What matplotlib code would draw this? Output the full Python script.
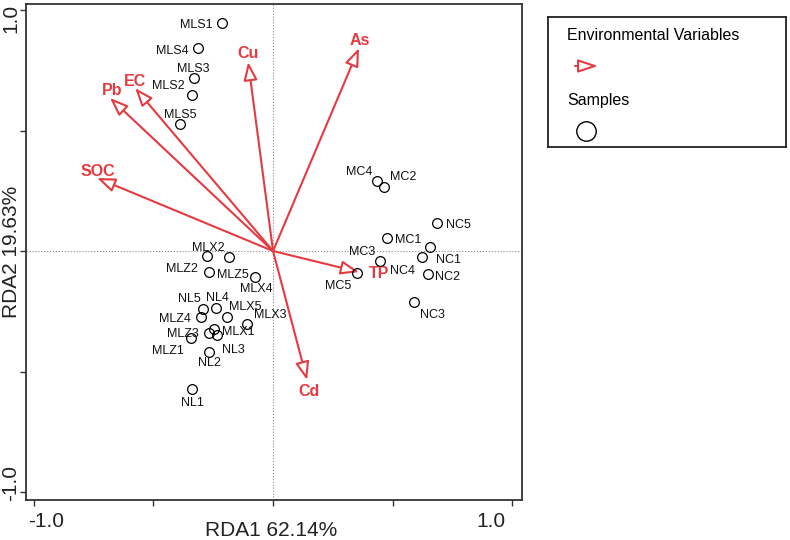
import numpy as np
import matplotlib.pyplot as plt

plt.rcParams['font.family'] = ['Liberation Sans', 'DejaVu Sans']

# sample scores (RDA1, RDA2)
samples = ['MLS1', 'MLS4', 'MLS3', 'MLS2', 'MLS5',
           'MLX2', 'MLZ5', 'MLZ2', 'MLX4', 'NL5', 'NL4', 'MLZ4', 'MLX5',
           'MLX3', 'MLX1', 'MLZ3', 'MLZ1', 'NL3', 'NL2', 'NL1',
           'MC4', 'MC2', 'NC5', 'MC1', 'NC1', 'NC4', 'MC3', 'MC5', 'NC2', 'NC3']
rda1 = [-0.213, -0.313, -0.330, -0.338, -0.388,
        -0.276, -0.184, -0.267, -0.075, -0.292, -0.238, -0.301, -0.192,
        -0.109, -0.246, -0.267, -0.343, -0.234, -0.267, -0.338,
        0.434, 0.464, 0.685, 0.476, 0.656, 0.622, 0.447, 0.351, 0.647, 0.589]
rda2 = [0.946, 0.842, 0.718, 0.647, 0.527,
        -0.021, -0.025, -0.087, -0.108, -0.241, -0.237, -0.274, -0.274,
        -0.303, -0.324, -0.340, -0.361, -0.349, -0.419, -0.573,
        0.290, 0.266, 0.116, 0.054, 0.017, -0.025, -0.041, -0.091, -0.095, -0.212]

# environmental variable arrows
env_vars = ['Cu', 'As', 'EC', 'Pb', 'SOC', 'TP', 'Cd']
env_x = [-0.104, 0.359, -0.576, -0.681, -0.735, 0.359, 0.142]
env_y = [0.784, 0.842, 0.676, 0.635, 0.303, -0.087, -0.535]

# label offsets in pixels (dx, dy downwards)
sample_off = {
    'MLS1': (-26, 2), 'MLS4': (-26, 3), 'MLS3': (-1, -9), 'MLS2': (-24, -9), 'MLS5': (0, -9),
    'MLX2': (1, -8), 'MLZ5': (4, 18), 'MLZ2': (-27, -3), 'MLX4': (1, 12), 'NL5': (-14, -10),
    'NL4': (1, -10), 'MLZ4': (-26, 2), 'MLX5': (18, -10), 'MLX3': (23, -9), 'MLX1': (24, 3),
    'MLZ3': (-26, 1), 'MLZ1': (-23, 13), 'NL3': (16, 15), 'NL2': (0, 11), 'NL1': (0, 14),
    'MC4': (-18, -9), 'MC2': (19, -10), 'NC5': (21, 2), 'MC1': (21, 2), 'NC1': (18, 13),
    'NC4': (-19, 14), 'MC3': (-18, -9), 'MC5': (-19, 13), 'NC2': (20, 3), 'NC3': (18, 13),
}
env_off = {'Cu': (0, -9), 'As': (1, -8), 'EC': (0, -7), 'Pb': (2, -7),
           'SOC': (1, -7), 'TP': (20, 1), 'Cd': (2, 12)}

red = '#e53a3f'
arrow_style = '-|>,head_length=1.1,head_width=0.42'

fig = plt.figure(figsize=(7.9, 5.4), dpi=100)
ax = fig.add_axes([26 / 790, 40 / 540, 496 / 790, 496 / 540])
ax.set_xlim(-1.032, 1.04)
ax.set_ylim(-1.033, 1.025)

ax.axhline(0, color='#888888', lw=0.8, ls=':', zorder=1)
ax.axvline(0, color='#888888', lw=0.8, ls=':', zorder=1)

for i, v in enumerate(env_vars):
    ax.annotate('', xy=(env_x[i], env_y[i]), xytext=(0, 0),
                arrowprops=dict(arrowstyle=arrow_style, mutation_scale=10,
                                ec=red, fc='white', lw=1.5,
                                shrinkA=0, shrinkB=0), zorder=3)
    dx, dy = env_off[v]
    ax.annotate(v, (env_x[i], env_y[i]), xytext=(dx, -dy), textcoords='offset pixels',
                ha='center', va='center', color=red, fontsize=11.5,
                fontweight='bold', zorder=4)

ax.plot(rda1, rda2, 'o', ms=7, mfc='none', mec='black', mew=0.9, zorder=5)
for i, s in enumerate(samples):
    dx, dy = sample_off[s]
    ax.annotate(s, (rda1[i], rda2[i]), xytext=(dx, -dy), textcoords='offset pixels',
                ha='center', va='center', fontsize=9, color='#111111', zorder=6)

ticks = [-1, -0.5, 0, 0.5, 1]
ax.set_xticks(ticks)
ax.set_yticks(ticks)
ax.set_xticklabels([])
ax.set_yticklabels([])
ax.tick_params(direction='out', length=4, width=1, color='#333333')
for sp in ax.spines.values():
    sp.set_linewidth(1.3)
    sp.set_color('#333333')

# tick labels only at the ends
ax.text(-0.948, -0.044, '-1.0', transform=ax.get_xaxis_transform(),
        ha='center', va='center', fontsize=15, color='#222222')
ax.text(0.91, -0.044, '1.0', transform=ax.get_xaxis_transform(),
        ha='center', va='center', fontsize=15, color='#222222')
ax.text(-0.030, 0.967, '1.0', transform=ax.get_yaxis_transform(), rotation=90,
        ha='center', va='center', fontsize=15, color='#222222')
ax.text(-0.030, -0.963, '-1.0', transform=ax.get_yaxis_transform(), rotation=90,
        ha='center', va='center', fontsize=15, color='#222222')

fig.text(271 / 790, 10 / 540, 'RDA1 62.14%', ha='center', va='center',
         fontsize=15, color='#222222')
fig.text(12 / 790, (540 - 252) / 540, 'RDA2 19.63%', ha='center', va='center',
         rotation=90, fontsize=15, color='#222222')

# legend box
lg = fig.add_axes([548 / 790, (540 - 147) / 540, 238 / 790, 130 / 540])
lg.set_xlim(0, 238)
lg.set_ylim(130, 0)
lg.set_xticks([])
lg.set_yticks([])
for sp in lg.spines.values():
    sp.set_linewidth(1.3)
    sp.set_color('#222222')
lg.text(19, 19, 'Environmental Variables', ha='left', va='center', fontsize=11.5)
lg.annotate('', xy=(50, 49), xytext=(27, 49),
            arrowprops=dict(arrowstyle='-|>,head_length=1.2,head_width=0.4',
                            mutation_scale=10, ec=red, fc='white', lw=1.5,
                            shrinkA=0, shrinkB=0))
lg.text(19, 84, 'Samples', ha='left', va='center', fontsize=11.5)
lg.plot([38], [114], 'o', ms=14, mfc='none', mec='black', mew=1.0)

fig.savefig('out.png', dpi=100)
